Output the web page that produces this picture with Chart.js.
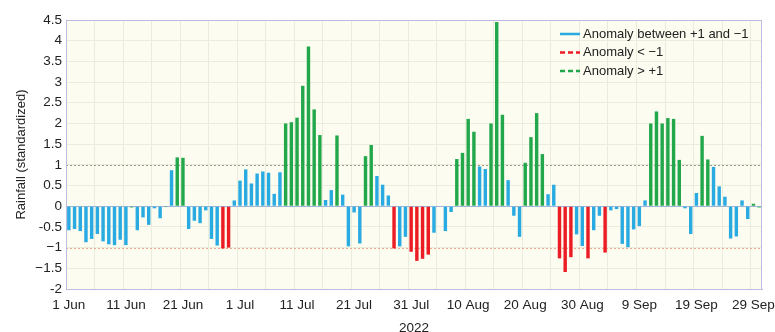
<!DOCTYPE html>
<html>
<head>
<meta charset="utf-8">
<script src="https://cdn.jsdelivr.net/npm/chart.js@4/dist/chart.umd.min.js"></script>
<style>
  html, body { margin: 0; padding: 0; background: #fff; }
</style>
</head>
<body>
<canvas id="rain-chart" width="775" height="332"></canvas>
<script>
// daily series, 1 Jun 2022 onwards
const startDay = new Date(2022, 5, 1);
const monthNames = ["Jan", "Feb", "Mar", "Apr", "May", "Jun", "Jul", "Aug", "Sep", "Oct", "Nov", "Dec"];

const rainfall = [
  -0.58, -0.55, -0.60, -0.87, -0.79, -0.67, -0.85, -0.92, -0.94, -0.81,
  -0.94, -0.03, -0.58, -0.27, -0.45, -0.05, -0.29, -0.02, 0.87, 1.18,
  1.17, -0.55, -0.35, -0.41, -0.10, -0.79, -0.95, -1.02, -1.00, 0.14,
  0.62, 0.89, 0.55, 0.79, 0.84, 0.81, 0.30, 0.82, 2.00, 2.03,
  2.14, 2.91, 3.86, 2.34, 1.72, 0.15, 0.39, 1.71, 0.28, -0.97,
  -0.15, -0.90, 1.21, 1.48, 0.73, 0.52, 0.26, -1.02, -0.97, -0.74,
  -1.10, -1.32, -1.27, -1.17, -0.64, 0, -0.60, -0.14, 1.14, 1.29,
  2.11, 1.80, 0.96, 0.90, 2.00, 4.45, 2.21, 0.63, -0.23, -0.74,
  1.05, 1.67, 2.25, 1.26, 0.29, 0.52, -1.26, -1.59, -1.23, -0.68,
  -0.96, -1.26, -0.58, -0.23, -1.12, -0.10, -0.07, -0.91, -0.99, -0.56,
  -0.48, 0.14, 2.00, 2.29, 2.00, 2.13, 2.11, 1.12, -0.05, -0.67,
  0.32, 1.70, 1.13, 0.95, 0.48, 0.23, -0.78, -0.73, 0.14, -0.31,
  0.06, -0.03
];

// b = between +1 and -1, r = below -1, g = above +1
const anomalyClass = [
  "b", "b", "b", "b", "b", "b", "b", "b", "b", "b",
  "b", "g", "b", "b", "b", "b", "b", "g", "b", "g",
  "g", "b", "b", "b", "b", "b", "b", "r", "r", "b",
  "b", "b", "b", "b", "b", "b", "b", "b", "g", "g",
  "g", "g", "g", "g", "g", "b", "b", "g", "b", "b",
  "b", "b", "g", "g", "b", "b", "b", "r", "b", "b",
  "r", "r", "r", "r", "b", "b", "b", "b", "g", "g",
  "g", "g", "b", "b", "g", "g", "g", "b", "b", "b",
  "g", "g", "g", "g", "b", "b", "r", "r", "r", "b",
  "b", "r", "b", "b", "r", "b", "b", "b", "b", "b",
  "b", "b", "g", "g", "g", "g", "g", "g", "b", "b",
  "b", "g", "g", "b", "b", "b", "b", "b", "b", "b",
  "g", "g"
];

const seriesNames = ["Anomaly between +1 and \u22121", "Anomaly < \u22121", "Anomaly > +1"];

const yTicks = [4.5, 4, 3.5, 3, 2.5, 2, 1.5, 1, 0.5, 0, -0.5, -1, -1.5, -2];
const yTickText = ["4.5", "4", "3.5", "3", "2.5", "2", "1.5", "1", "0.5", "0", "-0.5", "\u22121", "\u22121.5", "-2"];

const dayLabels = rainfall.map((v, i) => {
  const d = new Date(startDay.getFullYear(), startDay.getMonth(), startDay.getDate() + i);
  return d.getDate() + " " + monthNames[d.getMonth()];
});

const pick = cls => rainfall.map((v, i) => anomalyClass[i] === cls ? v : null);

const FONT = "'Liberation Sans', Arial, sans-serif";
const TEXT = "#222";

const plotBackground = {
  id: "plotBackground",
  beforeDraw(chart) {
    const { ctx, chartArea: a } = chart;
    ctx.save();
    ctx.fillStyle = "#fcfcf1";
    ctx.fillRect(a.left, a.top, a.right - a.left, a.bottom - a.top);
    ctx.restore();
  },
  afterDatasetsDraw(chart) {
    const { ctx, chartArea: a } = chart;
    ctx.save();
    ctx.strokeStyle = "#bcbce0";
    ctx.lineWidth = 1;
    ctx.strokeRect(a.left + 0.5, a.top + 0.5, a.right - a.left - 1, a.bottom - a.top);
    ctx.restore();
  }
};

// dotted reference lines at +1 and -1
const thresholdLines = {
  id: "thresholdLines",
  beforeDatasetsDraw(chart) {
    const { ctx, chartArea: a, scales } = chart;
    [[1, "#9a9a8c"], [-1, "#f0a890"]].forEach(([v, col]) => {
      const py = Math.round(scales.y.getPixelForValue(v)) + 0.5;
      ctx.save();
      ctx.strokeStyle = col;
      ctx.lineWidth = 1;
      ctx.setLineDash([2, 2]);
      ctx.beginPath();
      ctx.moveTo(a.left, py);
      ctx.lineTo(a.right, py);
      ctx.stroke();
      ctx.restore();
    });
  }
};

const legendBox = {
  id: "legendBox",
  afterDraw(chart) {
    const { ctx, chartArea: a } = chart;
    const x0 = a.right - 202;
    const y0 = a.top + 14;
    ctx.save();
    ctx.font = "13px " + FONT;
    ctx.textBaseline = "middle";
    chart.data.datasets.forEach((ds, i) => {
      const y = y0 + i * 18.5;
      ctx.strokeStyle = ds.backgroundColor;
      ctx.lineWidth = 2.5;
      ctx.setLineDash(i === 0 ? [] : [5, 3]);
      ctx.beginPath();
      ctx.moveTo(x0, y);
      ctx.lineTo(x0 + 20, y);
      ctx.stroke();
      ctx.setLineDash([]);
      ctx.fillStyle = TEXT;
      ctx.fillText(ds.label, x0 + 23, y);
    });
    ctx.restore();
  }
};

new Chart(document.getElementById("rain-chart"), {
  type: "bar",
  data: {
    labels: dayLabels,
    datasets: [
      { label: seriesNames[0], data: pick("b"), backgroundColor: "#29abe2" },
      { label: seriesNames[1], data: pick("r"), backgroundColor: "#ec1c24" },
      { label: seriesNames[2], data: pick("g"), backgroundColor: "#22a84b" }
    ]
  },
  options: {
    responsive: false,
    animation: false,
    layout: { padding: { left: 0, right: 13, top: 20, bottom: 0 } },
    datasets: {
      bar: { grouped: false, barPercentage: 0.6, categoryPercentage: 1, borderWidth: 0 }
    },
    plugins: {
      legend: { display: false },
      tooltip: { enabled: false }
    },
    scales: {
      x: {
        afterFit: s => { s.height = 43; },
        grid: {
          offset: true,
          drawTicks: false,
          color: c => c.index % 5 === 0 ? "#ececdc" : "rgba(0,0,0,0)"
        },
        border: { color: "#bcbce0" },
        ticks: {
          autoSkip: false,
          maxRotation: 0,
          padding: 8,
          color: TEXT,
          font: { family: FONT, size: 13.5 },
          callback: (v, i) => i % 10 === 0 ? dayLabels[i] : ""
        },
        title: {
          display: true,
          text: "2022",
          color: TEXT,
          font: { family: FONT, size: 13.5 },
          padding: { top: 0, bottom: -4 }
        }
      },
      y: {
        min: -2,
        max: 4.5,
        afterFit: s => { s.width = 66; },
        grid: {
          drawTicks: false,
          color: c => c.tick.value === 0 ? "#9fb6d8" : "#ececdc"
        },
        border: { color: "#bcbce0" },
        ticks: {
          stepSize: 0.5,
          autoSkip: false,
          padding: 4,
          color: TEXT,
          font: { family: FONT, size: 13.5 },
          callback: v => yTickText[yTicks.indexOf(v)]
        },
        title: {
          display: true,
          text: "Rainfall (standardized)",
          color: TEXT,
          font: { family: FONT, size: 13 },
          padding: { top: 14, bottom: 0 }
        }
      }
    }
  },
  plugins: [plotBackground, thresholdLines, legendBox]
});
</script>
</body>
</html>
